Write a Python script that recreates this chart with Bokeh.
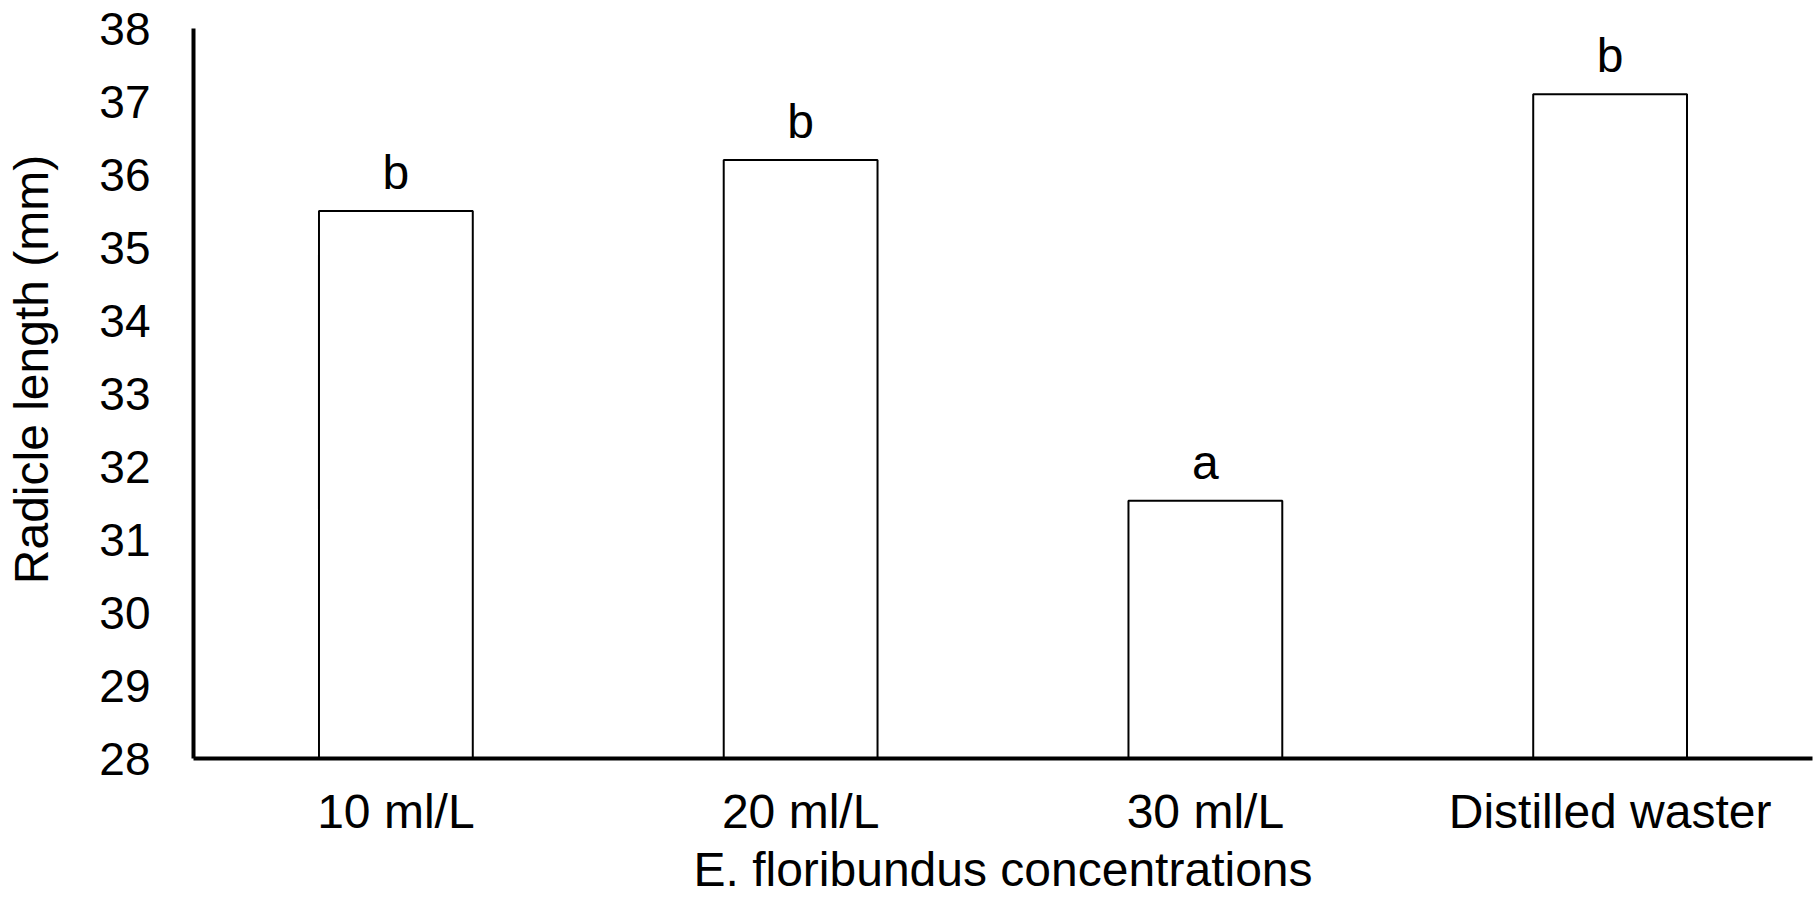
from bokeh.plotting import figure
from bokeh.models import FactorRange, Range1d, FixedTicker, ColumnDataSource, LabelSet
from bokeh.core.properties import value
from bokeh.embed import file_html
from bokeh.resources import INLINE

categories = ["10 ml/L", "20 ml/L", "30 ml/L", "Distilled waster"]
radicle_length = [35.5, 36.2, 31.53, 37.1]
letters = ["b", "b", "a", "b"]
y_ticks = [28, 29, 30, 31, 32, 33, 34, 35, 36, 37, 38]
Y_MIN, Y_MAX = 28, 38
x_title = "E. floribundus concentrations"
y_title = "Radicle length (mm)"

FONT = "Liberation Sans"
# two en-spaces before the y title nudge the centred title upward, as in the original
Y_TITLE_PAD = "\u2002\u2002"

src = ColumnDataSource(dict(cat=categories, val=radicle_length, lab=letters))

p = figure(width=1817, height=899,
           x_range=FactorRange(factors=categories, range_padding=0),
           y_range=Range1d(Y_MIN, Y_MAX),
           output_backend="svg", toolbar_location=None,
           min_border_left=193, min_border_right=5,
           min_border_top=28, min_border_bottom=141)

p.vbar(x="cat", top="val", bottom=Y_MIN, width=0.38, source=src,
       fill_color="white", line_color="black", line_width=2)

labels = LabelSet(x="cat", y="val", text="lab", source=src,
                  text_align="center", text_baseline="alphabetic",
                  y_offset=22, text_font=value(FONT),
                  text_font_size="48px", text_color="black")
p.add_layout(labels)

p.xgrid.visible = False
p.ygrid.visible = False
p.outline_line_color = None

for ax in (p.xaxis[0], p.yaxis[0]):
    ax.axis_line_width = 4
    ax.axis_line_color = "black"
    ax.major_tick_line_color = None
    ax.minor_tick_line_color = None
    ax.major_tick_out = 0
    ax.major_tick_in = 0
    ax.minor_tick_out = 0
    ax.major_label_text_font = FONT
    ax.major_label_text_color = "black"
    ax.axis_label_text_font = FONT
    ax.axis_label_text_font_size = "48px"
    ax.axis_label_text_font_style = "normal"
    ax.axis_label_text_color = "black"

p.yaxis.ticker = FixedTicker(ticks=y_ticks)
p.yaxis.major_label_text_font_size = "46px"
p.yaxis.major_label_standoff = 43
p.yaxis.axis_label = Y_TITLE_PAD + y_title
p.yaxis.axis_label_standoff = 38

p.xaxis.major_label_text_font_size = "48px"
p.xaxis.major_label_standoff = 26
p.xaxis.axis_label = x_title
p.xaxis.axis_label_standoff = 2

open("out.html", "w").write(file_html(p, INLINE))
